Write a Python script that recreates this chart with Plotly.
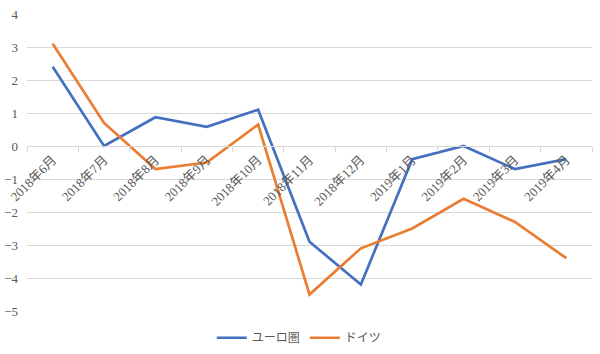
import plotly.graph_objects as go

categories = ["2018年6月", "2018年7月", "2018年8月", "2018年9月", "2018年10月", "2018年11月",
              "2018年12月", "2019年1月", "2019年2月", "2019年3月", "2019年4月"]
euro = [2.4, 0.0, 0.87, 0.58, 1.1, -2.9, -4.2, -0.4, 0.0, -0.7, -0.4]
germany = [3.1, 0.7, -0.7, -0.5, 0.65, -4.5, -3.1, -2.5, -1.6, -2.3, -3.4]
y_ticks = [4, 3, 2, 1, 0, -1, -2, -3, -4, -5]

fig = go.Figure()
fig.add_trace(go.Scatter(x=categories, y=euro, mode="lines", name="ユーロ圏",
                         line=dict(color="#4470BF", width=2.7)))
fig.add_trace(go.Scatter(x=categories, y=germany, mode="lines", name="ドイツ",
                         line=dict(color="#EB7D32", width=2.7)))

font_family = "'Liberation Serif', 'Noto Sans CJK JP', serif"
fig.update_layout(
    width=600, height=354,
    margin=dict(l=27, r=8, t=14, b=43, autoexpand=False),
    paper_bgcolor="white", plot_bgcolor="white",
    font=dict(family=font_family, color="#595959", size=12),
    showlegend=True,
    legend=dict(orientation="h", x=0.482, xanchor="center", y=-0.09, yanchor="middle",
                font=dict(size=12, color="#595959"), itemwidth=30,
                tracegroupgap=0, borderwidth=0),
    xaxis=dict(
        type="category", anchor="free", position=5/9,
        showgrid=False, showline=True, linecolor="#d9d9d9", linewidth=1,
        ticks="outside", tickson="boundaries", ticklen=5, tickcolor="#d9d9d9",
        tickangle=-45, tickfont=dict(size=13, color="#595959"),
        range=[-0.5, 10.5], zeroline=False,
    ),
    yaxis=dict(
        range=[-5, 4], tickvals=y_ticks, showgrid=True, gridcolor="#d9d9d9",
        gridwidth=1, zeroline=False, showline=False,
        tickfont=dict(size=13, color="#595959"), ticklabelstandoff=8,
    ),
)

fig.write_html("out.html")
